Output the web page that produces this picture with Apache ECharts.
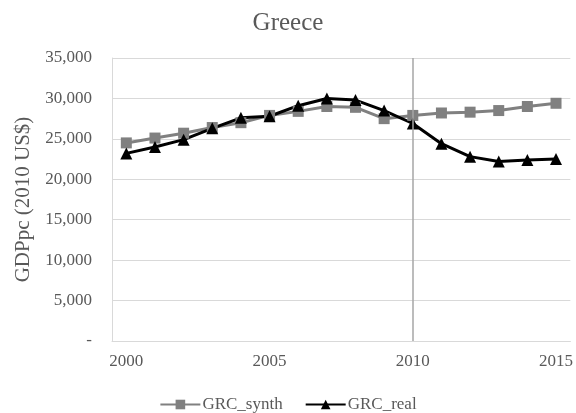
<!DOCTYPE html>
<html>
<head>
<meta charset="utf-8">
<script src="https://cdn.jsdelivr.net/npm/echarts@6/dist/echarts.min.js"></script>
<style>
html, body { margin: 0; padding: 0; background: #fff; }
#main { width: 576px; height: 413px; }
</style>
</head>
<body>
<div id="main"></div>
<script>
/*#################    Greece GDPpc  #####################*/
var years = ['2000','2001','2002','2003','2004','2005','2006','2007',
             '2008','2009','2010','2011','2012','2013','2014','2015'];
var grcSynth = [24500, 25100, 25700, 26400, 27000, 27900, 28400, 29000,
                28900, 27500, 27900, 28200, 28300, 28500, 29000, 29400];
var grcReal  = [23200, 24000, 24900, 26300, 27600, 27800, 29100, 30000,
                29800, 28500, 26900, 24400, 22800, 22200, 22400, 22500];
var yTicks = [0, 5000, 10000, 15000, 20000, 25000, 30000, 35000];
var breakYear = '2010';

var dom = document.getElementById("main");
var myChart = echarts.init(dom);
var font = 'Liberation Serif';

var option = {
    animation: false,
    title: {
        text: 'Greece',
        left: 'center',
        top: 6,
        textStyle: {
            fontFamily: font,
            fontSize: 25,
            fontWeight: 'normal',
            color: '#595959'
        }
    },
    legend: {
        top: 391,
        left: 'center',
        itemWidth: 40,
        itemHeight: 12,
        itemGap: 22,
        textStyle: {
            fontFamily: font,
            fontSize: 17,
            color: '#595959',
            padding: [0, 0, 0, -3]
        },
        data: ['GRC_synth', 'GRC_real']
    },
    grid: {
        left: 112,
        right: 5,
        top: 58,
        bottom: 72
    },
    xAxis: {
        type: 'category',
        data: years,
        boundaryGap: true,
        axisLine: { lineStyle: { color: '#d9d9d9', width: 1 } },
        axisTick: { show: false },
        axisLabel: {
            interval: 4,
            margin: 12,
            fontFamily: font,
            fontSize: 17,
            color: '#595959'
        }
    },
    yAxis: {
        type: 'value',
        min: yTicks[0],
        max: yTicks[yTicks.length - 1],
        interval: 5000,
        name: 'GDPpc (2010 US$)',
        nameLocation: 'middle',
        nameGap: 76,
        nameTextStyle: {
            fontFamily: font,
            fontSize: 21,
            color: '#595959'
        },
        axisLine: { show: true, lineStyle: { color: '#d9d9d9', width: 1 } },
        axisTick: { show: false },
        splitLine: { lineStyle: { color: '#d9d9d9', width: 1 } },
        axisLabel: {
            margin: 20,
            fontFamily: font,
            fontSize: 17,
            color: '#595959',
            formatter: function (v) {
                if (v === 0) return '-';
                return v.toLocaleString('en-US');
            }
        }
    },
    series: [
        {
            name: 'GRC_synth',
            type: 'line',
            data: grcSynth,
            symbol: 'rect',
            symbolSize: 11,
            lineStyle: { color: '#808080', width: 3 },
            itemStyle: { color: '#808080' },
            markLine: {
                silent: true,
                symbol: 'none',
                label: { show: false },
                lineStyle: { color: '#a6a6a6', width: 1.5, type: 'solid' },
                data: [{ xAxis: breakYear }]
            }
        },
        {
            name: 'GRC_real',
            type: 'line',
            data: grcReal,
            symbol: 'triangle',
            symbolSize: 12,
            lineStyle: { color: '#000000', width: 3 },
            itemStyle: { color: '#000000' }
        }
    ]
};
myChart.setOption(option);
</script>
</body>
</html>
